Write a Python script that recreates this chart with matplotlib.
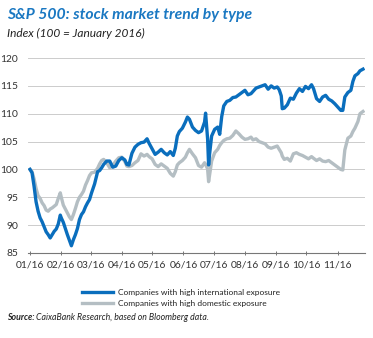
import matplotlib
matplotlib.use("Agg")
import matplotlib.pyplot as plt
import matplotlib.dates as mdates
import pandas as pd

plt.rcParams['font.family'] = ['Lato', 'DejaVu Sans']

dates = [
    "2016-01-01", "2016-01-03", "2016-01-05", "2016-01-07", "2016-01-09", "2016-01-11",
    "2016-01-13", "2016-01-15", "2016-01-17", "2016-01-19", "2016-01-21", "2016-01-23",
    "2016-01-25", "2016-01-27", "2016-01-29", "2016-01-31", "2016-02-01", "2016-02-03",
    "2016-02-05", "2016-02-07", "2016-02-09", "2016-02-11", "2016-02-13", "2016-02-15",
    "2016-02-17", "2016-02-19", "2016-02-21", "2016-02-23", "2016-02-25", "2016-02-27",
    "2016-02-29", "2016-03-02", "2016-03-05", "2016-03-08", "2016-03-10", "2016-03-12",
    "2016-03-14", "2016-03-17", "2016-03-20", "2016-03-23", "2016-03-26", "2016-03-29",
    "2016-04-01", "2016-04-04", "2016-04-06", "2016-04-08", "2016-04-11", "2016-04-14",
    "2016-04-17", "2016-04-20", "2016-04-23", "2016-04-26", "2016-04-28", "2016-05-01",
    "2016-05-04", "2016-05-07", "2016-05-10", "2016-05-13", "2016-05-16", "2016-05-19",
    "2016-05-22", "2016-05-24", "2016-05-26", "2016-05-28", "2016-05-31", "2016-06-03",
    "2016-06-05", "2016-06-07", "2016-06-10", "2016-06-13", "2016-06-16", "2016-06-19",
    "2016-06-22", "2016-06-23", "2016-06-25", "2016-06-26", "2016-06-27", "2016-06-29",
    "2016-07-02", "2016-07-05", "2016-07-07", "2016-07-09", "2016-07-11", "2016-07-14",
    "2016-07-17", "2016-07-20", "2016-07-23", "2016-07-26", "2016-07-29", "2016-08-01",
    "2016-08-04", "2016-08-07", "2016-08-09", "2016-08-12", "2016-08-15", "2016-08-18",
    "2016-08-21", "2016-08-24", "2016-08-27", "2016-08-30", "2016-09-02", "2016-09-04",
    "2016-09-06", "2016-09-07", "2016-09-09", "2016-09-12", "2016-09-15", "2016-09-18",
    "2016-09-21", "2016-09-24", "2016-09-27", "2016-09-30", "2016-10-03", "2016-10-06",
    "2016-10-08", "2016-10-11", "2016-10-14", "2016-10-17", "2016-10-20", "2016-10-23",
    "2016-10-26", "2016-10-29", "2016-11-01", "2016-11-04", "2016-11-06", "2016-11-08",
    "2016-11-11", "2016-11-14", "2016-11-16", "2016-11-18", "2016-11-21", "2016-11-23",
    "2016-11-26",
]

international = [
    100.0, 99.4, 97.0, 94.2, 92.5, 91.3, 90.6, 89.7, 88.8, 88.3, 87.7, 88.3,
    88.9, 89.3, 90.2, 91.8, 91.3, 90.5, 89.4, 88.3, 87.3, 86.3, 87.4, 88.3,
    89.4, 91.0, 91.9, 92.4, 93.3, 94.0, 94.6, 95.8, 97.4, 99.6, 99.8, 100.3,
    100.9, 101.5, 101.5, 100.4, 100.6, 101.6, 102.1, 101.7, 100.9, 100.8, 102.9, 104.0,
    104.5, 104.8, 104.9, 105.5, 104.7, 103.7, 102.7, 103.1, 103.6, 103.0, 102.6, 103.2,
    102.5, 103.8, 106.0, 106.8, 107.4, 108.5, 109.4, 109.0, 107.6, 107.0, 106.6, 106.9,
    108.5, 110.1, 105.5, 100.8, 102.8, 106.0, 107.2, 107.6, 106.3, 109.5, 111.4, 112.2,
    112.4, 112.9, 113.0, 113.4, 113.8, 114.2, 113.4, 113.6, 114.0, 114.6, 114.8, 115.0,
    115.2, 114.4, 115.0, 114.6, 114.8, 114.3, 113.2, 110.9, 111.0, 111.6, 112.8, 112.6,
    113.7, 114.5, 114.0, 114.9, 114.5, 115.2, 114.5, 112.7, 112.2, 113.0, 113.3, 112.6,
    112.3, 111.8, 111.2, 110.6, 110.6, 113.0, 113.8, 114.2, 115.8, 116.8, 117.2, 117.7,
    118.0,
]

domestic = [
    100.0, 99.6, 98.3, 96.6, 95.3, 94.8, 94.0, 93.5, 92.7, 92.5, 92.9, 93.1,
    93.4, 93.7, 94.8, 95.8, 95.0, 93.6, 92.9, 92.2, 91.5, 91.0, 91.9, 93.0,
    94.2, 95.0, 95.5, 96.1, 97.2, 98.0, 98.9, 99.4, 99.5, 100.2, 101.0, 101.6,
    101.8, 101.2, 100.3, 100.7, 101.5, 102.1, 102.2, 101.4, 100.6, 100.5, 100.7, 101.2,
    101.6, 102.8, 102.4, 102.7, 102.3, 101.9, 100.9, 100.5, 101.0, 100.6, 100.2, 99.3,
    98.8, 99.6, 100.8, 101.2, 101.6, 102.2, 103.0, 103.6, 102.8, 102.1, 100.7, 100.4,
    101.2, 100.9, 100.1, 97.8, 99.0, 101.5, 103.0, 103.6, 104.3, 104.8, 105.2, 105.5,
    105.6, 106.1, 106.9, 106.4, 105.8, 105.4, 105.5, 105.8, 105.3, 105.5, 105.0, 104.8,
    104.6, 104.0, 103.8, 104.0, 104.2, 103.6, 103.0, 102.4, 101.8, 102.0, 101.5, 102.8,
    103.0, 102.7, 102.5, 102.2, 101.9, 102.3, 102.0, 101.6, 101.9, 101.5, 101.4, 101.6,
    101.2, 100.8, 100.4, 100.0, 99.9, 103.5, 105.6, 106.0, 106.8, 107.4, 108.6, 110.0,
    110.4,
]

labels = ["Companies with high international exposure",
          "Companies with high domestic exposure"]
yticks = [85, 90, 95, 100, 105, 110, 115, 120]

blue = "#0a6ebd"
grey = "#b4bec3"

df = pd.DataFrame({"international": international, "domestic": domestic},
                  index=pd.to_datetime(dates))

W, H = 373, 338
fig = plt.figure(figsize=(W / 100, H / 100), dpi=100)
ax = fig.add_axes([28 / W, 1 - 253 / H, (365 - 28) / W, (253 - 58) / H])

ax.plot(df.index, df["domestic"], color=grey, lw=2.4, label=labels[1],
        solid_joinstyle="round")
ax.plot(df.index, df["international"], color=blue, lw=2.4, label=labels[0],
        solid_joinstyle="round")

ax.set_ylim(85, 120)
ax.set_xlim(pd.Timestamp("2015-12-30"), pd.Timestamp("2016-11-28"))
ax.set_yticks(yticks)
ax.yaxis.grid(True, color="#cccccc", lw=0.7)
ax.set_axisbelow(True)
for s in ["top", "right", "left"]:
    ax.spines[s].set_visible(False)
ax.spines["bottom"].set_color("#777777")
ax.spines["bottom"].set_linewidth(0.8)

ax.xaxis.set_major_locator(mdates.MonthLocator())
ax.xaxis.set_major_formatter(mdates.DateFormatter("%m/%y"))
ax.tick_params(axis="x", direction="inout", length=3, width=0.7, color="#777777",
               labelsize=7.4, pad=4, labelcolor="#333333")
ax.tick_params(axis="y", length=0, labelsize=7.4, pad=7, labelcolor="#333333")

# title block
fig.text(7 / W, 1 - 15 / H, "S&P 500: stock market trend by type", color="#1a78c2",
         fontsize=11.3, fontweight="bold", fontstyle="italic", va="center")
fig.text(7 / W, 1 - 33 / H, "Index (100 = January 2016)", color="#222222",
         fontsize=8.6, fontstyle="italic", va="center")

handles, labs = ax.get_legend_handles_labels()
fig.legend(handles[::-1], labs[::-1], loc="center left",
           bbox_to_anchor=(82 / W, 1 - 298 / H), frameon=False, fontsize=6.05,
           handlelength=3.7, handletextpad=0.55, labelspacing=0.55,
           borderpad=0, borderaxespad=0, labelcolor="#222222")

src = fig.text(7 / W, 1 - 317 / H, "Source:", fontsize=6.3, fontweight="bold",
               fontstyle="italic", va="center", color="#222222")
fig.canvas.draw()
bb = src.get_window_extent()
fig.text((bb.x1 + 2) / W, 1 - 317 / H, "CaixaBank Research, based on Bloomberg data.",
         fontsize=6.3, fontstyle="italic", va="center", color="#222222")

fig.savefig("out.png", dpi=100)
